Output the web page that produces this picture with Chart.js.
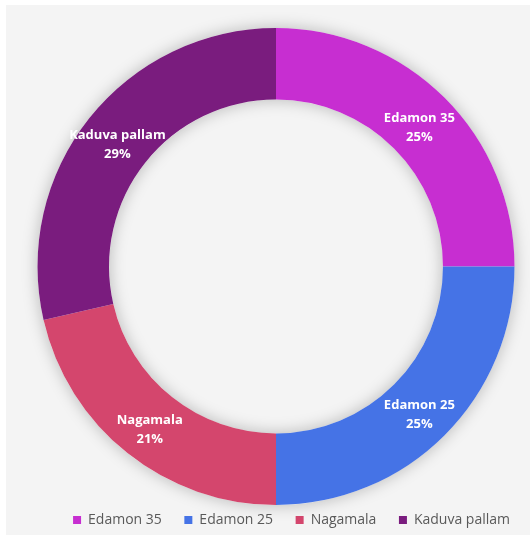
<!DOCTYPE html>
<html>
<head>
<meta charset="utf-8">
<script src="https://cdn.jsdelivr.net/npm/chart.js@4.4.1/dist/chart.umd.min.js"></script>
<style>
  html, body { margin: 0; padding: 0; background: #ffffff; }
  #wrap { position: relative; width: 530px; height: 537px; }
  canvas { display: block; }
</style>
</head>
<body>
<div id="wrap"><canvas id="c" width="530" height="537"></canvas></div>
<script>
const categories = ['Edamon 35', 'Edamon 25', 'Nagamala', 'Kaduva pallam'];
const values = [25, 25, 21.4, 28.6];
const percentLabels = ['25%', '25%', '21%', '29%'];
const colors = ['#C72ED1', '#4573E6', '#D4466D', '#7A1C7E'];

const bgPlugin = {
  id: 'bg',
  beforeDraw(chart) {
    const ctx = chart.ctx;
    ctx.save();
    ctx.fillStyle = '#ffffff';
    ctx.fillRect(0, 0, chart.width, chart.height);
    ctx.fillStyle = '#F4F4F4';
    ctx.fillRect(6, 5, chart.width - 6, chart.height - 7);
    ctx.restore();
  }
};

const shadowPlugin = {
  id: 'ringShadow',
  beforeDatasetsDraw(chart) {
    const meta = chart.getDatasetMeta(0);
    if (!meta.data.length) return;
    const a = meta.data[0];
    const ctx = chart.ctx;
    ctx.save();
    ctx.shadowColor = 'rgba(0,0,0,0.25)';
    ctx.shadowBlur = 16;
    ctx.fillStyle = '#F4F4F4';
    ctx.beginPath();
    ctx.arc(a.x, a.y, a.outerRadius, 0, Math.PI * 2);
    ctx.arc(a.x, a.y, a.innerRadius, 0, Math.PI * 2, true);
    ctx.closePath();
    ctx.fill();
    ctx.restore();
  }
};

const labelPlugin = {
  id: 'sliceLabels',
  afterDatasetsDraw(chart) {
    const meta = chart.getDatasetMeta(0);
    const ctx = chart.ctx;
    ctx.save();
    ctx.fillStyle = '#ffffff';
    ctx.font = 'bold 13px "Open Sans", sans-serif';
    ctx.textAlign = 'center';
    ctx.textBaseline = 'middle';
    meta.data.forEach((arc, i) => {
      const p = arc.tooltipPosition();
      ctx.fillText(categories[i], p.x, p.y - 5);
      ctx.fillText(percentLabels[i], p.x, p.y + 14);
    });
    ctx.restore();
  }
};

new Chart(document.getElementById('c'), {
  type: 'doughnut',
  data: {
    labels: categories,
    datasets: [{
      data: values,
      backgroundColor: colors,
      borderWidth: 0,
      hoverOffset: 0
    }]
  },
  options: {
    responsive: false,
    animation: false,
    cutout: '70%',
    layout: { padding: { top: 28, left: 34, right: 12, bottom: 0 } },
    plugins: {
      tooltip: { enabled: false },
      legend: {
        position: 'bottom',
        align: 'end',
        labels: {
          boxWidth: 8,
          boxHeight: 8,
          padding: 8,
          color: '#595959',
          font: { family: '"Open Sans", sans-serif', size: 14 },
          generateLabels(chart) {
            return categories.map((name, i) => ({
              text: i < categories.length - 1 ? name + '    ' : name,
              fillStyle: colors[i],
              strokeStyle: colors[i],
              lineWidth: 0,
              fontColor: '#595959',
              hidden: false,
              index: i
            }));
          }
        }
      }
    }
  },
  plugins: [bgPlugin, shadowPlugin, labelPlugin]
});
</script>
</body>
</html>
